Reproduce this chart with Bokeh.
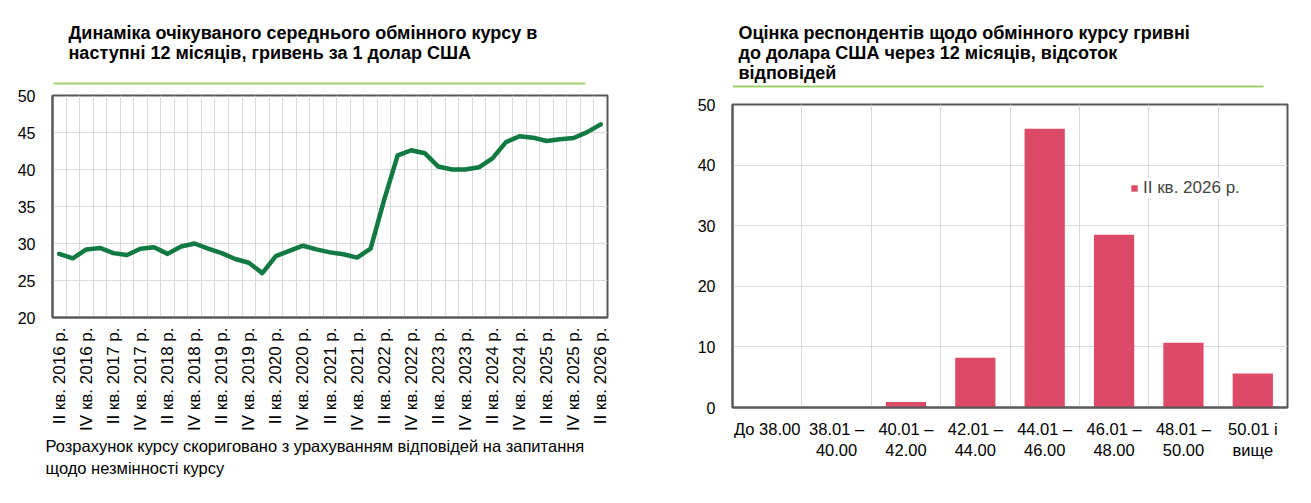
import math
from bokeh.plotting import figure
from bokeh.layouts import row, column
from bokeh.models import (FixedTicker, Grid, Legend, LegendItem, Range1d,
                          ColumnDataSource, Title)
from bokeh.core.properties import value
from bokeh.embed import file_html
from bokeh.resources import INLINE

# ---- data: expected average exchange rate, UAH per 1 USD ----
quarters = [
    "II кв. 2016 р.", "III кв. 2016 р.", "IV кв. 2016 р.",
    "I кв. 2017 р.", "II кв. 2017 р.", "III кв. 2017 р.", "IV кв. 2017 р.",
    "I кв. 2018 р.", "II кв. 2018 р.", "III кв. 2018 р.", "IV кв. 2018 р.",
    "I кв. 2019 р.", "II кв. 2019 р.", "III кв. 2019 р.", "IV кв. 2019 р.",
    "I кв. 2020 р.", "II кв. 2020 р.", "III кв. 2020 р.", "IV кв. 2020 р.",
    "I кв. 2021 р.", "II кв. 2021 р.", "III кв. 2021 р.", "IV кв. 2021 р.",
    "I кв. 2022 р.", "II кв. 2022 р.", "III кв. 2022 р.", "IV кв. 2022 р.",
    "I кв. 2023 р.", "II кв. 2023 р.", "III кв. 2023 р.", "IV кв. 2023 р.",
    "I кв. 2024 р.", "II кв. 2024 р.", "III кв. 2024 р.", "IV кв. 2024 р.",
    "I кв. 2025 р.", "II кв. 2025 р.", "III кв. 2025 р.", "IV кв. 2025 р.",
    "I кв. 2026 р.", "II кв. 2026 р.",
]
expected_rate = [
    28.6, 28.0, 29.2, 29.4, 28.7, 28.45, 29.3, 29.5, 28.6, 29.6,
    30.0, 29.3, 28.7, 27.9, 27.4, 26.0, 28.3, 29.0, 29.7, 29.2,
    28.8, 28.55, 28.1, 29.3, 35.9, 41.9, 42.6, 42.2, 40.4, 40.0,
    40.0, 40.3, 41.5, 43.7, 44.5, 44.3, 43.85, 44.1, 44.25, 45.05,
    46.1,
]
rate_ticks = [20, 25, 30, 35, 40, 45, 50]

# ---- data: distribution of answers, % of respondents ----
rate_bins = ["До 38.00", "38.01 –\n40.00", "40.01 –\n42.00", "42.01 –\n44.00",
             "44.01 –\n46.00", "46.01 –\n48.00", "48.01 –\n50.00", "50.01 і\nвище"]
answer_share = [0.0, 0.0, 0.9, 8.2, 46.0, 28.5, 10.7, 5.6]
share_ticks = [0, 10, 20, 30, 40, 50]
series_name = "II кв. 2026 р."

left_title = ["Динаміка очікуваного середнього обмінного курсу в",
              "наступні 12 місяців, гривень за 1 долар США"]
right_title = ["Оцінка респондентів щодо обмінного курсу гривні",
               "до долара США через 12 місяців, відсоток",
               "відповідей"]
footnote = ["Розрахунок курсу скориговано з урахуванням відповідей на запитання",
            "щодо незмінності курсу"]

FONT = "Liberation Sans"
FRAME = "#595959"
GRID = "#d9d9d9"
GREEN_RULE = "#9bd16a"
LINE_GREEN = "#117a41"
BAR_RED = "#dc4a67"

W_LEFT, W_RIGHT = 655, 656
L_BORDER, R_BORDER = (52, 48), (77, 24)   # left/right borders of each column


def header(width, height, borders, lines, x0, y0, step, rule):
    """Heading block in page pixels (y downward): bold text lines plus a green rule."""
    bl, br = borders
    p = figure(width=width, height=height, output_backend="svg", toolbar_location=None,
               x_range=Range1d(bl, width - br), y_range=Range1d(height, 0),
               min_border_left=bl, min_border_right=br, min_border_top=0,
               min_border_bottom=0, outline_line_color=None)
    p.axis.visible = False
    p.grid.visible = False
    src = ColumnDataSource(dict(x=[x0] * len(lines),
                                y=[y0 + k * step for k in range(len(lines))],
                                t=lines))
    p.text("x", "y", text="t", source=src, text_font=value(FONT),
           text_font_size=value("18px"), text_font_style="bold",
           text_color="#000000", text_baseline="middle", text_align="left")
    xa, xb, yr = rule
    p.segment(x0=[xa], y0=[yr], x1=[xb], y1=[yr], line_color=GREEN_RULE, line_width=2)
    return p


def style_axes(p, x_size, label_standoff_x, label_standoff_y):
    p.outline_line_color = FRAME
    p.outline_line_width = 2
    for ax in (p.xaxis[0], p.yaxis[0]):
        ax.axis_line_color = FRAME
        ax.axis_line_width = 2
        ax.major_tick_line_color = None
        ax.minor_tick_line_color = None
        ax.major_label_text_font = FONT
        ax.major_label_text_font_size = "16px"
        ax.major_label_text_color = "#000000"
    p.xaxis[0].major_label_text_font_size = x_size
    p.xaxis[0].major_label_standoff = label_standoff_x
    p.yaxis[0].major_label_standoff = label_standoff_y


# ================= left chart: line =================
n = len(quarters)
xs = list(range(n))
left = figure(width=W_LEFT, height=418, output_backend="svg", toolbar_location=None,
              x_range=Range1d(-0.5, n - 0.5), y_range=Range1d(rate_ticks[0], rate_ticks[-1]),
              min_border_left=L_BORDER[0], min_border_right=L_BORDER[1], min_border_top=10,
              min_border_bottom=186)
left.xgrid.visible = False
left.ygrid.ticker = FixedTicker(ticks=rate_ticks)
left.ygrid.grid_line_color = GRID
left.add_layout(Grid(dimension=0, ticker=FixedTicker(ticks=[i + 0.5 for i in range(n - 1)]),
                     grid_line_color=GRID))
left.yaxis.ticker = FixedTicker(ticks=rate_ticks)
left.xaxis.ticker = FixedTicker(ticks=xs[::2])
left.xaxis.major_label_overrides = {i: quarters[i] for i in xs[::2]}
left.xaxis.major_label_orientation = math.pi / 2
style_axes(left, "17px", 4, 11)

src = ColumnDataSource(dict(x=xs, rate=expected_rate))
left.line("x", "rate", source=src, line_color=LINE_GREEN, line_width=4.5,
          line_join="round", line_cap="round")

# note under the axis labels
for line, gap in zip(footnote, (3, 1)):
    left.add_layout(Title(text=line, align="left", offset=-7, standoff=gap,
                          text_font=FONT, text_font_size="16.5px",
                          text_font_style="normal", text_color="#000000"), "below")

left_head = header(W_LEFT, 85, L_BORDER, left_title, 68, 32, 20, (53, 585, 83))

# ================= right chart: bars =================
m = len(rate_bins)
bx = list(range(m))
right = figure(width=W_RIGHT, height=409, output_backend="svg", toolbar_location=None,
               x_range=Range1d(-0.5, m - 0.5), y_range=Range1d(share_ticks[0], share_ticks[-1]),
               min_border_left=R_BORDER[0], min_border_right=R_BORDER[1], min_border_top=10,
               min_border_bottom=96)
right.xgrid.visible = False
right.ygrid.ticker = FixedTicker(ticks=share_ticks)
right.ygrid.grid_line_color = GRID
right.add_layout(Grid(dimension=0, ticker=FixedTicker(ticks=[i + 0.5 for i in range(m - 1)]),
                      grid_line_color=GRID))
right.yaxis.ticker = FixedTicker(ticks=share_ticks)
right.xaxis.ticker = FixedTicker(ticks=bx)
right.xaxis.major_label_overrides = {i: rate_bins[i] for i in bx}
style_axes(right, "16.5px", 6, 11)

bsrc = ColumnDataSource(dict(x=bx, share=answer_share))
bars = right.vbar(x="x", top="share", width=0.58, source=bsrc,
                  fill_color=BAR_RED, line_color=None)

legend = Legend(items=[LegendItem(label=series_name, renderers=[bars])],
                location=(398, 209), margin=0, padding=20,
                glyph_width=8, glyph_height=8, label_standoff=5,
                label_text_font=FONT, label_text_font_size="17px",
                background_fill_color="#ffffff", background_fill_alpha=1,
                border_line_color=None)
right.add_layout(legend)

right_head = header(W_RIGHT, 94, R_BORDER, right_title, 83, 32, 20, (77, 608, 86))

layout = row(column(left_head, left, spacing=0),
             column(right_head, right, spacing=0), spacing=0)
open("out.html", "w").write(file_html(layout, INLINE))
